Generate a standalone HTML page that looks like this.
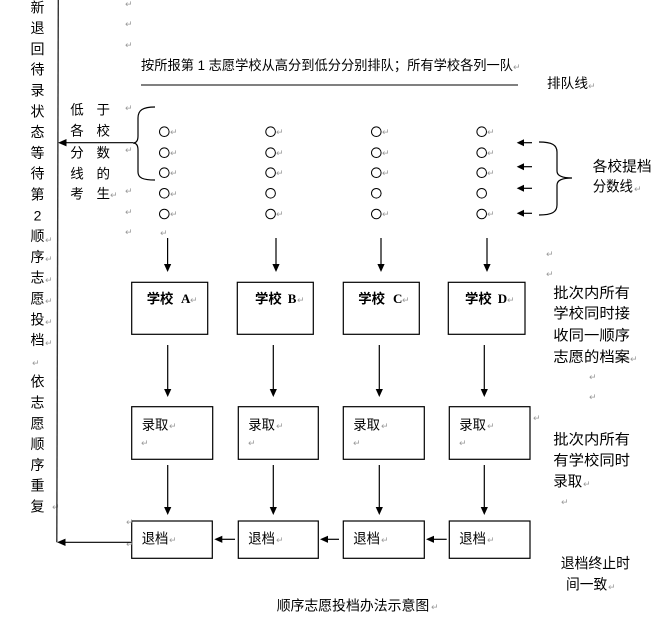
<!DOCTYPE html>
<html>
<head>
<meta charset="utf-8">
<style>
html,body{margin:0;padding:0;background:#fff;}
svg{display:block;}
.t{font-family:"Liberation Sans","Noto Sans CJK SC",sans-serif;fill:#000;}
.s{font-family:"Liberation Serif","Noto Serif CJK SC",serif;fill:#000;font-weight:bold;}
.r{font-family:"DejaVu Sans",sans-serif;fill:#9a9a9a;font-size:9px;}
</style>
</head>
<body>
<svg width="664" height="622" viewBox="0 0 664 622" xmlns="http://www.w3.org/2000/svg">
<rect width="664" height="622" fill="#fff"/>

<!-- left vertical column text -->
<g class="t" font-size="14" text-anchor="middle">
<text x="37.5" y="12.3">新</text>
<text x="37.5" y="33.1">退</text>
<text x="37.5" y="53.9">回</text>
<text x="37.5" y="74.7">待</text>
<text x="37.5" y="95.5">录</text>
<text x="37.5" y="116.3">状</text>
<text x="37.5" y="137.1">态</text>
<text x="37.5" y="157.9">等</text>
<text x="37.5" y="178.7">待</text>
<text x="37.5" y="199.5">第</text>
<text x="37.5" y="220.3">2</text>
<text x="37.5" y="241.1">顺</text>
<text x="37.5" y="261.9">序</text>
<text x="37.5" y="282.7">志</text>
<text x="37.5" y="303.5">愿</text>
<text x="37.5" y="324.3">投</text>
<text x="37.5" y="345.1">档</text>
<text x="37.5" y="386.7">依</text>
<text x="37.5" y="407.5">志</text>
<text x="37.5" y="428.3">愿</text>
<text x="37.5" y="449.1">顺</text>
<text x="37.5" y="469.9">序</text>
<text x="37.5" y="490.7">重</text>
<text x="37.5" y="511.5">复</text>
</g>
<g class="r">
<text x="45" y="243">↵</text>
<text x="45" y="262">↵</text>
<text x="45" y="283">↵</text>
<text x="45" y="304">↵</text>
<text x="45" y="325">↵</text>
<text x="45" y="346">↵</text>
<text x="32" y="366">↵</text>
<text x="52" y="510">↵</text>
</g>

<!-- left vertical line -->
<line x1="58.3" y1="0" x2="56.8" y2="542.3" stroke="#333" stroke-width="1.4"/>

<!-- left mid text -->
<g class="t" font-size="13.5" text-anchor="middle">
<text x="77" y="114.3">低</text><text x="103.3" y="114.3">于</text>
<text x="77" y="135.7">各</text><text x="103.3" y="135.7">校</text>
<text x="77" y="157.7">分</text><text x="103.3" y="157.7">数</text>
<text x="77" y="178.3">线</text><text x="103.3" y="178.3">的</text>
<text x="77" y="198.3">考</text><text x="103.3" y="198.3">生</text>
</g>
<text class="r" x="110" y="198">↵</text>

<!-- gray return marks column near x=129 -->
<g class="r">
<text x="125" y="7">↵</text>
<text x="125" y="27">↵</text>
<text x="125" y="48">↵</text>
<text x="125" y="111">↵</text>
<text x="125" y="153">↵</text>
<text x="125" y="194">↵</text>
<text x="125" y="215">↵</text>
<text x="125" y="235">↵</text>
<text x="160" y="236">↵</text>
</g>

<!-- top heading -->
<text class="t" x="141" y="70" font-size="13.5" textLength="372" lengthAdjust="spacingAndGlyphs">按所报第 1 志愿学校从高分到低分分别排队；所有学校各列一队</text>
<text class="r" x="513" y="70">↵</text>
<line x1="141" y1="85" x2="518" y2="85" stroke="#000" stroke-width="1.1"/>
<text class="t" x="547" y="88" font-size="13.5" textLength="41" lengthAdjust="spacingAndGlyphs">排队线</text>
<text class="r" x="588" y="89">↵</text>

<!-- left brace -->
<path d="M155,107 C143,107 138,110 138,118 L138,136 C138,141 136,143 133,143 C136,143 138,145 138,150 L138,172 C138,178 143,180 155,180" fill="none" stroke="#000" stroke-width="1.2"/>
<!-- arrow from brace to vertical line -->
<line x1="133" y1="142.7" x2="64" y2="142.7" stroke="#000" stroke-width="1.2"/>
<polygon points="58,142.7 66.5,139 66.5,146.4" fill="#000"/>

<!-- circles -->
<g fill="none" stroke="#000" stroke-width="1">
<circle cx="164.3" cy="131.7" r="4.8"/><circle cx="164.3" cy="152.7" r="4.8"/><circle cx="164.3" cy="172.7" r="4.8"/><circle cx="164.3" cy="193.3" r="4.8"/><circle cx="164.3" cy="214" r="4.8"/>
<circle cx="270.6" cy="131.7" r="4.8"/><circle cx="270.6" cy="152.7" r="4.8"/><circle cx="270.6" cy="172.7" r="4.8"/><circle cx="270.6" cy="193.3" r="4.8"/><circle cx="270.6" cy="214" r="4.8"/>
<circle cx="376.3" cy="131.7" r="4.8"/><circle cx="376.3" cy="152.7" r="4.8"/><circle cx="376.3" cy="172.7" r="4.8"/><circle cx="376.3" cy="193.3" r="4.8"/><circle cx="376.3" cy="214" r="4.8"/>
<circle cx="481.7" cy="131.7" r="4.8"/><circle cx="481.7" cy="152.7" r="4.8"/><circle cx="481.7" cy="172.7" r="4.8"/><circle cx="481.7" cy="193.3" r="4.8"/><circle cx="481.7" cy="214" r="4.8"/>
</g>
<g class="r">
<text x="170" y="135">↵</text><text x="170" y="156">↵</text><text x="170" y="176">↵</text><text x="170" y="197">↵</text><text x="170" y="217">↵</text>
<text x="276" y="135">↵</text><text x="276" y="156">↵</text><text x="276" y="176">↵</text><text x="276" y="217">↵</text>
<text x="382" y="135">↵</text><text x="382" y="156">↵</text><text x="382" y="176">↵</text><text x="382" y="217">↵</text>
<text x="487" y="135">↵</text><text x="487" y="156">↵</text><text x="487" y="176">↵</text><text x="487" y="217">↵</text>
</g>

<!-- right small arrows -->
<g stroke="#000" stroke-width="1.2">
<line x1="532" y1="142.7" x2="522" y2="142.7"/>
<line x1="532" y1="166.7" x2="522" y2="166.7"/>
<line x1="532" y1="188.3" x2="522" y2="188.3"/>
<line x1="532" y1="213.3" x2="522" y2="213.3"/>
</g>
<g fill="#000">
<polygon points="516.7,142.7 524,139.2 524,146.2"/>
<polygon points="516.7,166.7 524,163.2 524,170.2"/>
<polygon points="516.7,188.3 524,184.8 524,191.8"/>
<polygon points="516.7,213.3 524,209.8 524,216.8"/>
</g>
<!-- right brace -->
<path d="M539,142 C552,142 557,145 557,152 L557,171 C557,176 562,178 572,178 C562,178 557,180 557,185 L557,205 C557,212 552,215 539,215" fill="none" stroke="#000" stroke-width="1.2"/>
<text class="t" x="592.7" y="171.3" font-size="14.5" textLength="59" lengthAdjust="spacingAndGlyphs">各校提档</text>
<text class="t" x="592.7" y="191.3" font-size="14.5" textLength="40.3" lengthAdjust="spacingAndGlyphs">分数线</text>
<text class="r" x="634" y="192">↵</text>

<!-- top down arrows -->
<g stroke="#000" stroke-width="1.2">
<line x1="167.6" y1="238" x2="167.6" y2="265"/>
<line x1="276" y1="238" x2="276" y2="265"/>
<line x1="381" y1="238" x2="381" y2="265"/>
<line x1="487" y1="238" x2="487" y2="265"/>
</g>
<g fill="#000">
<polygon points="167.6,272 164,264 171.2,264"/>
<polygon points="276,272 272.4,264 279.6,264"/>
<polygon points="381,272 377.4,264 384.6,264"/>
<polygon points="487,272 483.4,264 490.6,264"/>
</g>

<!-- row 1 boxes -->
<g fill="none" stroke="#000" stroke-width="1.2">
<rect x="131.7" y="282.3" width="76" height="52"/>
<rect x="237.3" y="282.3" width="76" height="52"/>
<rect x="343.3" y="282.3" width="76" height="52"/>
<rect x="448.3" y="282.3" width="76.7" height="52"/>
</g>
<g class="t" font-size="13.5" font-weight="bold">
<text x="146.7" y="303.3" textLength="26.7" lengthAdjust="spacingAndGlyphs">学校</text>
<text x="255" y="303.3" textLength="26.7" lengthAdjust="spacingAndGlyphs">学校</text>
<text x="358.3" y="303.3" textLength="26.7" lengthAdjust="spacingAndGlyphs">学校</text>
<text x="465" y="303.3" textLength="26.7" lengthAdjust="spacingAndGlyphs">学校</text>
</g>
<g class="s" font-size="13">
<text x="181" y="303">A</text>
<text x="287.7" y="303">B</text>
<text x="393" y="303">C</text>
<text x="497.7" y="303">D</text>
</g>
<g class="r">
<text x="190" y="303">↵</text><text x="297" y="303">↵</text><text x="402" y="303">↵</text><text x="507" y="303">↵</text>
</g>

<!-- right text group 1 -->
<g class="r"><text x="546" y="257">↵</text><text x="546" y="277">↵</text></g>
<g class="t" font-size="14.5">
<text x="553.3" y="298" textLength="76.7" lengthAdjust="spacingAndGlyphs">批次内所有</text>
<text x="553.3" y="318.6" textLength="76.7" lengthAdjust="spacingAndGlyphs">学校同时接</text>
<text x="553.3" y="340.3" textLength="76.7" lengthAdjust="spacingAndGlyphs">收同一顺序</text>
<text x="553.3" y="362" textLength="76.7" lengthAdjust="spacingAndGlyphs">志愿的档案</text>
</g>
<g class="r"><text x="630" y="362">↵</text><text x="589" y="380">↵</text><text x="589" y="400">↵</text></g>

<!-- mid down arrows -->
<g stroke="#000" stroke-width="1.2">
<line x1="167.7" y1="345" x2="167.7" y2="390"/>
<line x1="273.3" y1="345" x2="273.3" y2="390"/>
<line x1="379.3" y1="345" x2="379.3" y2="390"/>
<line x1="484.3" y1="345" x2="484.3" y2="390"/>
</g>
<g fill="#000">
<polygon points="167.7,397 164.1,389 171.3,389"/>
<polygon points="273.3,397 269.7,389 276.9,389"/>
<polygon points="379.3,397 375.7,389 382.9,389"/>
<polygon points="484.3,397 480.7,389 487.9,389"/>
</g>

<!-- row 2 boxes -->
<g fill="none" stroke="#000" stroke-width="1.2">
<rect x="131.7" y="406.7" width="81" height="52.6"/>
<rect x="238.3" y="406.7" width="80" height="52.6"/>
<rect x="343.3" y="406.7" width="81" height="52.6"/>
<rect x="449.3" y="406.7" width="80.7" height="52.6"/>
</g>
<g class="t" font-size="13.5">
<text x="141.7" y="429.3" textLength="26.7" lengthAdjust="spacingAndGlyphs">录取</text>
<text x="248.3" y="429.3" textLength="26.7" lengthAdjust="spacingAndGlyphs">录取</text>
<text x="353.3" y="429.3" textLength="26.7" lengthAdjust="spacingAndGlyphs">录取</text>
<text x="459.3" y="429.3" textLength="26.7" lengthAdjust="spacingAndGlyphs">录取</text>
</g>
<g class="r">
<text x="169" y="429">↵</text><text x="276" y="429">↵</text><text x="381" y="429">↵</text><text x="487" y="429">↵</text>
<text x="141" y="446">↵</text><text x="248" y="446">↵</text><text x="353" y="446">↵</text><text x="459" y="446">↵</text>
<text x="533" y="421">↵</text>
</g>

<!-- right text group 2 -->
<g class="t" font-size="14.5">
<text x="553.3" y="444.6" textLength="76.7" lengthAdjust="spacingAndGlyphs">批次内所有</text>
<text x="553.3" y="465.3" textLength="76.7" lengthAdjust="spacingAndGlyphs">有学校同时</text>
<text x="553.3" y="486.3" textLength="29" lengthAdjust="spacingAndGlyphs">录取</text>
</g>
<g class="r"><text x="583" y="487">↵</text><text x="561" y="505">↵</text></g>

<!-- bottom down arrows -->
<g stroke="#000" stroke-width="1.2">
<line x1="167.7" y1="465" x2="167.7" y2="508"/>
<line x1="273.3" y1="465" x2="273.3" y2="508"/>
<line x1="379.3" y1="465" x2="379.3" y2="508"/>
<line x1="484.3" y1="465" x2="484.3" y2="508"/>
</g>
<g fill="#000">
<polygon points="167.7,515 164.1,507 171.3,507"/>
<polygon points="273.3,515 269.7,507 276.9,507"/>
<polygon points="379.3,515 375.7,507 382.9,507"/>
<polygon points="484.3,515 480.7,507 487.9,507"/>
</g>

<!-- row 3 boxes -->
<g fill="none" stroke="#000" stroke-width="1.2">
<rect x="131.7" y="521" width="80.6" height="37.3"/>
<rect x="238.3" y="521" width="80" height="37.3"/>
<rect x="343.3" y="521" width="81" height="37.3"/>
<rect x="449.3" y="521" width="80.7" height="37.3"/>
</g>
<g class="t" font-size="14">
<text x="141.7" y="543.5" textLength="26.7" lengthAdjust="spacingAndGlyphs">退档</text>
<text x="248.3" y="543.5" textLength="26.7" lengthAdjust="spacingAndGlyphs">退档</text>
<text x="353.3" y="543.5" textLength="26.7" lengthAdjust="spacingAndGlyphs">退档</text>
<text x="459.3" y="543.5" textLength="26.7" lengthAdjust="spacingAndGlyphs">退档</text>
</g>
<g class="r">
<text x="169" y="543">↵</text><text x="276" y="543">↵</text><text x="381" y="543">↵</text><text x="487" y="543">↵</text>
<text x="126" y="525">↵</text><text x="126" y="547">↵</text>
</g>

<!-- horizontal arrows bottom -->
<g stroke="#000" stroke-width="1.2">
<line x1="446.7" y1="539.3" x2="432" y2="539.3"/>
<line x1="339" y1="539.3" x2="326" y2="539.3"/>
<line x1="235" y1="539.3" x2="220" y2="539.3"/>
<line x1="131.7" y1="542.3" x2="63" y2="542.3"/>
</g>
<g fill="#000">
<polygon points="426,539.3 434,535.7 434,542.9"/>
<polygon points="320,539.3 328,535.7 328,542.9"/>
<polygon points="214.3,539.3 222.3,535.7 222.3,542.9"/>
<polygon points="57,542.3 65.5,538.6 65.5,546"/>
</g>

<!-- bottom right text -->
<g class="t" font-size="14.5">
<text x="560.7" y="568.6" textLength="69.3" lengthAdjust="spacingAndGlyphs">退档终止时</text>
<text x="566" y="589.6" textLength="41.3" lengthAdjust="spacingAndGlyphs">间一致</text>
</g>
<text class="r" x="608" y="590">↵</text>

<!-- caption -->
<text class="t" x="276.7" y="610.3" font-size="14" textLength="152.6" lengthAdjust="spacingAndGlyphs">顺序志愿投档办法示意图</text>
<text class="r" x="431" y="610">↵</text>
</svg>
</body>
</html>
